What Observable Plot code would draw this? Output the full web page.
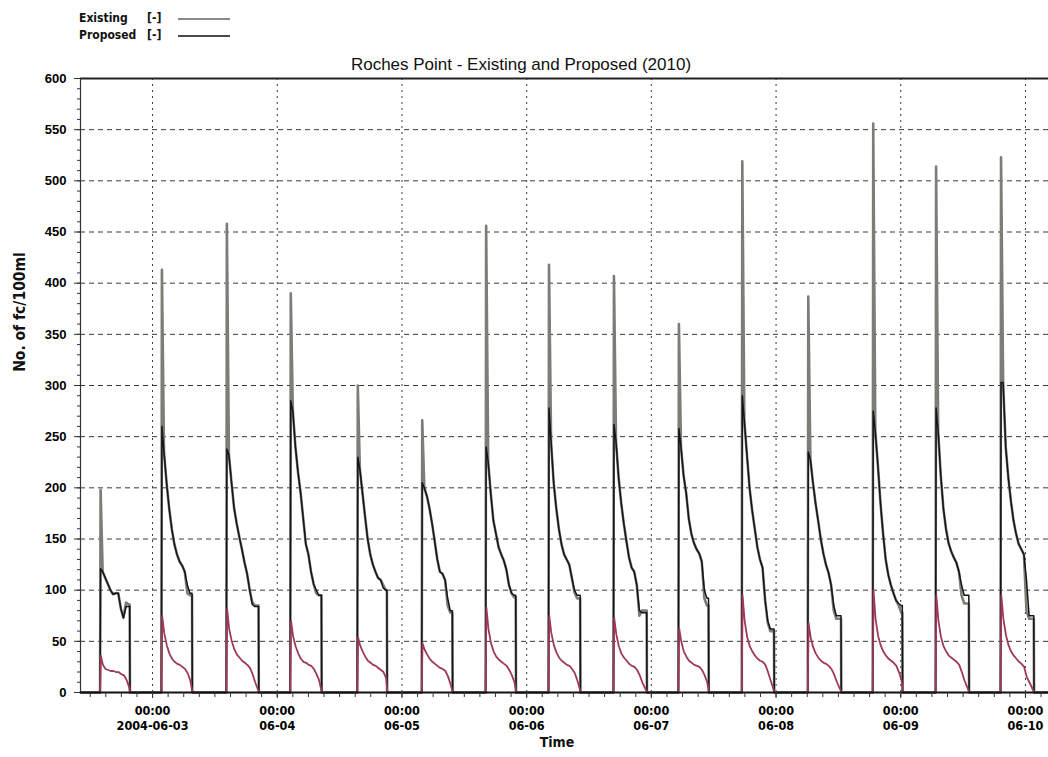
<!DOCTYPE html>
<html><head><meta charset="utf-8">
<script src="https://cdn.jsdelivr.net/npm/d3@7"></script>
<script src="https://cdn.jsdelivr.net/npm/@observablehq/plot@0.6"></script>
<style>
body{margin:0;background:#fff;}
#wrap{position:relative;width:1048px;height:757px;overflow:hidden;}
#wrap svg{position:absolute;left:0;top:0;}
.narrow{font-family:"DejaVu Sans Condensed","DejaVu Sans",sans-serif;font-stretch:condensed;font-weight:bold;color:#111;}
#wrap svg g[aria-label="x-axis tick label"]{font-stretch:condensed;}
.abs{position:absolute;white-space:nowrap;}
</style></head><body><div id="wrap"></div>
<script>
// ---- data ----
const eventStart = ["2004-06-02T13:54","2004-06-03T01:42","2004-06-03T14:12","2004-06-04T02:30","2004-06-04T15:24",
  "2004-06-05T03:48","2004-06-05T16:06","2004-06-06T04:12","2004-06-06T16:42","2004-06-07T05:12",
  "2004-06-07T17:24","2004-06-08T06:06","2004-06-08T18:36","2004-06-09T06:42","2004-06-09T19:12"];
const eventHours = [5.7,5.9,6.2,6.0,5.7,5.9,5.8,6.1,6.4,5.8,6.2,6.4,5.7,6.4,6.4];
const sampleOffsets = [0.1,0.5,1,1.5,2,2.5,3,3.5,4,4.5,5,5.5];
const existing = [
  [198,118,112,106,100,96,97,97,82,73,88,86],
  [413,235,205,180,160,145,135,128,124,118,97,95],
  [458,232,205,180,165,152,140,127,116,100,88,85],
  [390,275,240,215,195,170,145,135,118,106,97,95],
  [300,218,195,172,150,135,125,118,112,110,105,100],
  [266,200,192,180,165,148,130,118,116,110,85,78],
  [456,225,194,168,155,142,135,129,120,105,97,93],
  [418,245,205,180,160,145,135,130,125,112,98,92],
  [407,245,210,185,165,148,132,122,118,105,75,80],
  [360,240,212,195,170,155,146,140,136,128,92,85],
  [519,265,232,200,178,160,142,130,122,90,68,60],
  [387,228,205,185,168,150,136,125,117,105,80,72],
  [556,255,222,185,155,130,115,105,97,90,85,78],
  [514,255,212,180,160,146,138,132,127,118,95,87],
  [523,303,240,210,187,168,155,145,140,135,80,72]
];
const proposed = [
  [121,118,112,106,100,96,97,97,82,73,84,84],
  [260,235,205,180,160,145,135,128,124,118,105,97],
  [238,232,205,180,165,152,140,127,116,100,86,84],
  [285,275,240,215,195,170,145,135,118,106,100,95],
  [230,218,195,172,150,135,125,118,112,110,102,100],
  [205,200,192,180,165,148,130,118,116,110,92,80],
  [240,225,194,168,155,142,135,129,120,105,97,95],
  [278,245,205,180,160,145,135,130,125,112,100,95],
  [262,245,210,185,165,148,132,122,118,105,80,78],
  [258,240,212,195,170,155,146,140,136,128,100,92],
  [290,265,232,200,178,160,142,130,122,90,70,62],
  [235,228,205,185,168,150,136,125,117,105,85,75],
  [275,255,222,185,155,130,115,105,97,90,87,85],
  [278,255,212,180,160,146,138,132,127,118,105,95],
  [303,303,240,210,187,168,155,145,140,135,110,75]
];
const third = [
  [36,27,23,22,21,21,20,20,18,17,13,6],
  [75,58,46,38,33,30,28,27,25,23,19,12],
  [82,62,50,42,37,34,31,29,27,24,18,10],
  [70,55,45,38,33,30,29,27,26,23,18,12],
  [54,46,40,35,31,29,27,26,24,22,20,14],
  [48,42,37,33,30,28,26,24,23,21,16,8],
  [83,62,48,40,35,32,30,28,26,22,17,10],
  [75,58,46,39,34,31,29,27,26,23,19,12],
  [73,57,45,38,34,31,28,26,25,22,17,10],
  [63,50,40,35,31,29,27,26,25,22,17,10],
  [95,70,54,45,40,36,33,31,30,27,20,12],
  [68,54,44,38,34,31,29,28,26,23,18,11],
  [100,72,55,46,40,36,33,31,29,26,20,12],
  [95,70,54,45,40,36,34,32,30,27,20,12],
  [95,72,56,46,40,36,33,30,28,25,15,10]
];
const timeDomain = ["2004-06-02T10:08","2004-06-10T04:26"];
const dayTicks = ["2004-06-03","2004-06-04","2004-06-05","2004-06-06","2004-06-07","2004-06-08","2004-06-09","2004-06-10"];
const dayLabels = ["00:00\n2004-06-03","00:00\n06-04","00:00\n06-05","00:00\n06-06","00:00\n06-07","00:00\n06-08","00:00\n06-09","00:00\n06-10"];
const yTicks = [0,50,100,150,200,250,300,350,400,450,500,550,600];
const yGrid = [50,100,150,200,250,300,350,400,450,500,550];

// ---- build series ----
const H = 3600e3;
const utc = s => new Date(s.length === 10 ? s + "T00:00Z" : s + "Z");
const t0s = eventStart.map(utc);
const at = (d, h) => new Date(d.getTime() + h * H);
const dStart = utc(timeDomain[0]), dEnd = utc(timeDomain[1]);

function baselineSeries(vals) {
  const pts = [{t: dStart, v: 0}];
  t0s.forEach((t0, e) => {
    pts.push({t: t0, v: 0});
    sampleOffsets.forEach((o, k) => pts.push({t: at(t0, o), v: vals[e][k]}));
    const last = vals[e][vals[e].length - 1];
    pts.push({t: at(t0, eventHours[e]), v: last});
    pts.push({t: at(t0, eventHours[e] + 0.05), v: 0});
  });
  pts.push({t: dEnd, v: 0});
  return pts;
}
const existingPts = baselineSeries(existing);
const proposedPts = baselineSeries(proposed);
const thirdPts = [];
t0s.forEach((t0, e) => {
  thirdPts.push({t: t0, v: 0, e});
  sampleOffsets.forEach((o, k) => thirdPts.push({t: at(t0, o + 0.05), v: third[e][k], e}));
  thirdPts.push({t: at(t0, eventHours[e] + 0.1), v: 0, e});
});

const dayDates = dayTicks.map(utc);
const labelMap = new Map(dayDates.map((d, i) => [+d, dayLabels[i]]));
const xMinor = d3.utcHour.every(3).range(dStart, dEnd);
const yMinor = d3.range(0, 601, 10);
const narrowFont = "DejaVu Sans Condensed, DejaVu Sans, sans-serif";

const chart = Plot.plot({
  width: 1048, height: 757,
  marginTop: 78, marginBottom: 65, marginLeft: 80, marginRight: 0,
  style: {background: "transparent", overflow: "visible"},
  x: {type: "utc", domain: [dStart, dEnd]},
  y: {domain: [0, 600]},
  marks: [
    Plot.gridY(yGrid, {stroke: "#3a3a3a", strokeOpacity: 1, strokeDasharray: "5,4"}),
    Plot.gridX(dayDates, {stroke: "#3a3a3a", strokeOpacity: 1, strokeDasharray: "2,4"}),
    Plot.line(existingPts, {x: "t", y: "v", stroke: "#7b7e77", strokeWidth: 2.6}),
    Plot.line(proposedPts, {x: "t", y: "v", stroke: "#151515", strokeWidth: 1.5}),
    Plot.line(thirdPts, {x: "t", y: "v", z: "e", stroke: "#9e3a58", strokeWidth: 1.8}),
    Plot.ruleY([0], {stroke: "#111", strokeWidth: 2}),
    Plot.ruleY([600], {stroke: "#222", strokeWidth: 1.8}),
    Plot.ruleX([dStart], {stroke: "#333", strokeWidth: 1.2}),
    Plot.axisY(yTicks, {tickSize: 6, tickPadding: 8, fontSize: 13, fontWeight: "bold", fontFamily: "Liberation Sans, Arial, sans-serif", label: null, stroke: "#333"}),
    Plot.axisY(yMinor, {tickSize: 3, tickFormat: () => "", label: null, stroke: "#333"}),
    Plot.axisX(dayDates, {tickSize: 6, tickPadding: 6, tickFormat: d => labelMap.get(+d), lineHeight: 1.2, fontSize: 12.5, fontWeight: "bold", fontFamily: narrowFont, label: null, stroke: "#333"}),
    Plot.axisX(xMinor, {tickSize: 5, tickFormat: () => "", label: null, stroke: "#333"})
  ]
});
const wrap = document.getElementById("wrap");
wrap.appendChild(chart);

function addText(txt, css, cls) {
  const d = document.createElement("div");
  d.className = "abs " + (cls || "");
  d.textContent = txt;
  Object.assign(d.style, css);
  wrap.appendChild(d);
  return d;
}
// title
addText("Roches Point - Existing and Proposed (2010)", {left: "521px", top: "55px", transform: "translateX(-50%)", fontFamily: "Liberation Sans, Arial, sans-serif", fontSize: "17px", color: "#111"});
// axis titles
addText("No. of fc/100ml", {left: "20px", top: "312px", transform: "translate(-50%,-50%) rotate(-90deg)", fontSize: "15.5px"}, "narrow");
addText("Time", {left: "557px", top: "734px", transform: "translateX(-50%)", fontSize: "14px"}, "narrow");
// legend
const legendNames = ["Existing", "Proposed"];
const legendColors = ["#8a8c88", "#4a4a4a"];
legendNames.forEach((n, i) => {
  const y = 11 + i * 17;
  addText(n, {left: "79px", top: y + "px", fontSize: "12px"}, "narrow");
  addText("[-]", {left: "147px", top: y + "px", fontSize: "12px"}, "narrow");
  const l = document.createElement("div");
  l.className = "abs";
  Object.assign(l.style, {left: "178px", top: (y + 7) + "px", width: "52px", height: "2px", background: legendColors[i]});
  wrap.appendChild(l);
});
</script>
</body></html>
